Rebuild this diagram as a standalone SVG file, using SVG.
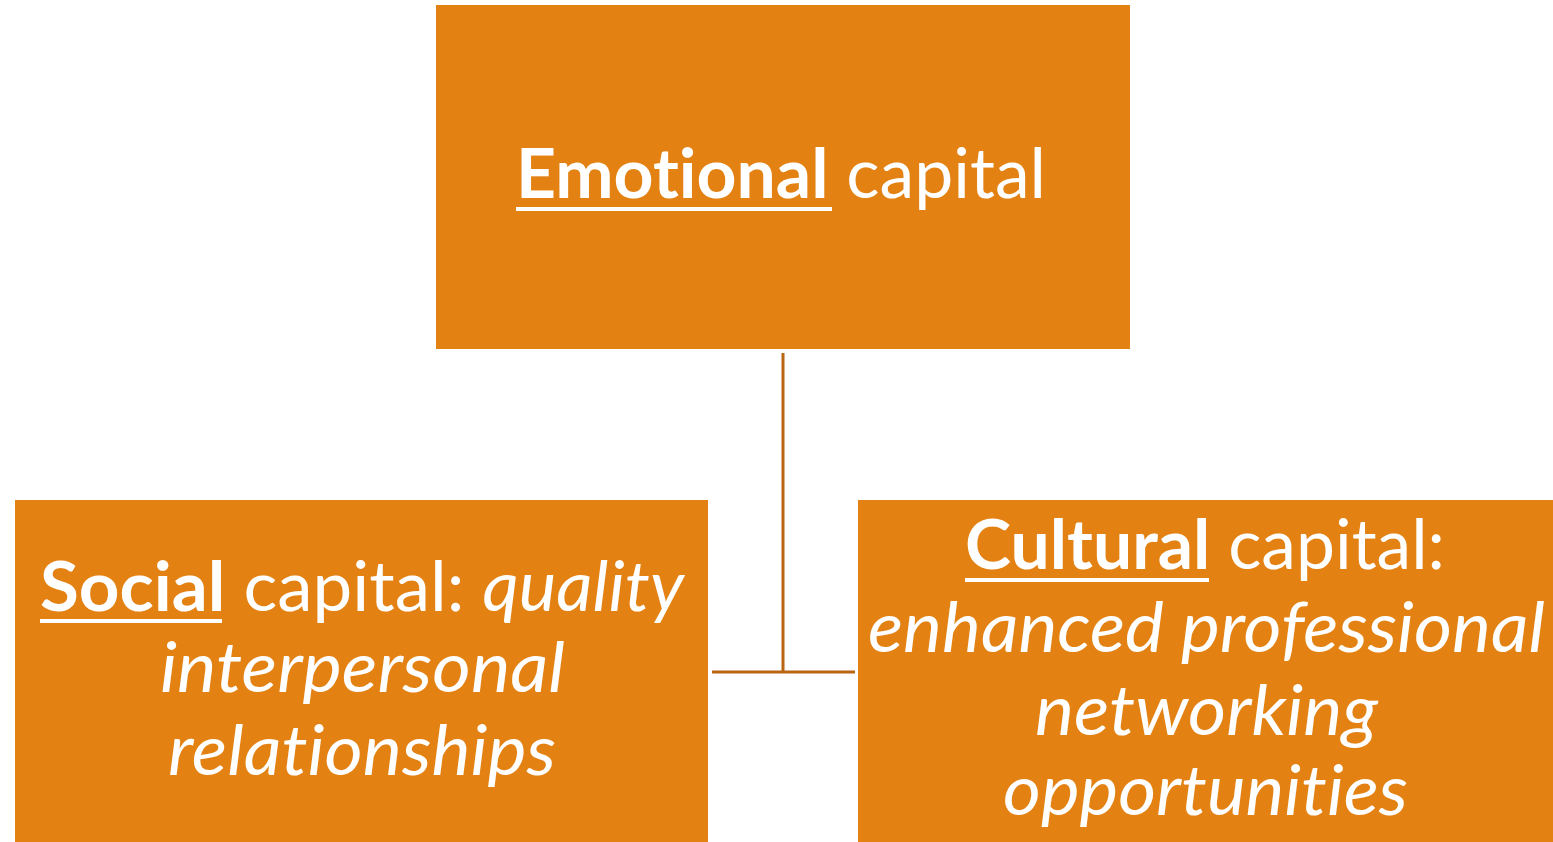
<svg xmlns="http://www.w3.org/2000/svg" width="1553" height="842" viewBox="0 0 1553 842">
  <style>
    .box { fill: #E38213; }
    .label { font-family: Lato, "Open Sans", "Liberation Sans", sans-serif; font-size: 69px; fill: #FFFFFF; font-variant-ligatures: none; font-feature-settings: "liga" 0, "clig" 0; }
    .b { font-weight: 700; }
    .i { font-style: italic; }
    .ul { fill: #FFFFFF; }
    .link { stroke: #BA6514; stroke-width: 3; fill: none; }
  </style>
  <rect width="1553" height="842" fill="#FFFFFF"/>

  <!-- connectors -->
  <g id="connectors">
    <line class="link" x1="783" y1="353" x2="783" y2="672"/>
    <line class="link" x1="712" y1="672" x2="855" y2="672"/>
  </g>

  <!-- top node -->
  <g id="node-emotional">
    <rect class="box" x="436" y="5" width="694" height="344"/>
    <text class="label" x="516" y="198" textLength="530" lengthAdjust="spacingAndGlyphs"><tspan class="b">Emotional</tspan> capital</text>
    <rect class="ul" x="516" y="207" width="316" height="4"/>
  </g>

  <!-- left node -->
  <g id="node-social">
    <rect class="box" x="15" y="500" width="693" height="342"/>
    <text class="label" x="40" y="611" textLength="644" lengthAdjust="spacingAndGlyphs"><tspan class="b">Social</tspan> capital: <tspan class="i">quality</tspan></text>
    <rect class="ul" x="40" y="619" width="182" height="4"/>
    <text class="label i" x="160" y="692" textLength="405" lengthAdjust="spacingAndGlyphs">interpersonal</text>
    <text class="label i" x="168" y="775" textLength="388" lengthAdjust="spacingAndGlyphs">relationships</text>
  </g>

  <!-- right node -->
  <g id="node-cultural">
    <rect class="box" x="858" y="500" width="695" height="342"/>
    <text class="label" x="965" y="569" textLength="480" lengthAdjust="spacingAndGlyphs"><tspan class="b">Cultural</tspan> capital:</text>
    <rect class="ul" x="965" y="578" width="244" height="4"/>
    <text class="label i" x="868" y="652" textLength="677" lengthAdjust="spacingAndGlyphs">enhanced professional</text>
    <text class="label i" x="1035" y="735" textLength="343" lengthAdjust="spacingAndGlyphs">networking</text>
    <text class="label i" x="1003" y="815" textLength="405" lengthAdjust="spacingAndGlyphs">opportunities</text>
  </g>
</svg>
